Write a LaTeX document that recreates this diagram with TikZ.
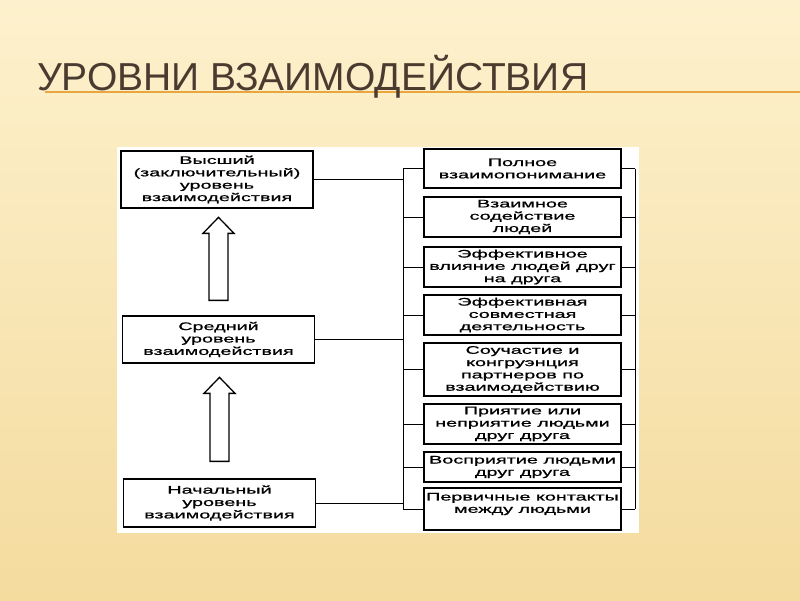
\documentclass[tikz,border=0pt]{standalone}
\usepackage{fontspec}
\setmainfont{Liberation Sans}
\newfontfamily\boxfont[FakeStretch=1.8,FakeBold=0.9]{Liberation Sans}
\usepackage{tikz}
\usetikzlibrary{calc}
\definecolor{slidetop}{HTML}{FDF1CD}
\definecolor{slidebot}{HTML}{F4DB9E}
\definecolor{titleink}{HTML}{4A3B30}
\definecolor{ruleline}{HTML}{E9A53F}

\begin{document}
\begin{tikzpicture}[x=1pt, y=-1pt,
    lvl/.style={draw, line width=1.3pt, minimum width=192pt, align=center,
                inner sep=2pt, font=\boxfont\fontsize{11}{12.4}\selectfont},
    stage/.style={draw, line width=1.3pt, minimum width=197pt, align=center,
                  inner sep=1pt, font=\boxfont\fontsize{11}{12.3}\selectfont},
    hollow/.style={draw, line width=1.3pt, fill=white, line join=miter},
    wire/.style={line width=1pt}
]

\useasboundingbox (0,0) rectangle (800,600);
\shade[top color=slidetop, bottom color=slidebot] (0,0) rectangle (800,600);

% title
\draw[ruleline, line width=1.5pt] (45,92) -- (800,92);
\node[anchor=base west, inner sep=0pt, text=titleink,
      font=\fontsize{39}{39}\selectfont] (title) at (37,90)
    {УРОВНИ ВЗАИМОДЕЙСТВИЯ};

% scanned panel
\fill[white] (117,147) rectangle (639,533);

% levels
\node[lvl, minimum height=57pt] (high) at (217,179.5)
    {Высший\\(заключительный)\\уровень\\взаимодействия};
\node[lvl, minimum height=47pt] (mid) at (218.5,339.5)
    {Средний\\уровень\\взаимодействия};
\node[lvl, minimum height=48pt] (low) at (219.5,503)
    {Начальный\\уровень\\взаимодействия};

% stages
\node[stage, minimum height=39pt] (r1) at (522.5,168.5)
    {Полное\\взаимопонимание};
\node[stage, minimum height=40pt] (r2) at (522.5,217)
    {Взаимное\\содействие\\людей};
\node[stage, minimum height=40pt] (r3) at (522.5,267)
    {Эффективное\\влияние людей друг\\на друга};
\node[stage, minimum height=40pt] (r4) at (522.5,315)
    {Эффективная\\совместная\\деятельность};
\node[stage, minimum height=53pt] (r5) at (522.5,369.5)
    {Соучастие и\\конгруэнция\\партнеров по\\взаимодействию};
\node[stage, minimum height=40pt] (r6) at (522.5,424)
    {Приятие или\\неприятие людьми\\друг друга};
\node[stage, minimum height=30pt] (r7) at (522.5,467)
    {Восприятие людьми\\друг друга};
\node[stage, minimum height=42pt] (r8) at (522.5,509)
    {Первичные контакты\\между людьми\\\phantom{м}};

% upward block arrows
\draw[hollow] ($(mid.north)+(-9.5,-15)$) -- ++(0,-67) -- ++(-6,0)
    -- ++(15.5,-16) -- ++(15.5,16) -- ++(-6,0) -- ++(0,67) -- cycle;
\draw[hollow] ($(low.north)+(-9.5,-17)$) -- ++(0,-68) -- ++(-6,0)
    -- ++(15.5,-16) -- ++(15.5,16) -- ++(-6,0) -- ++(0,68) -- cycle;

% brackets
\coordinate (lbus) at (403,0);
\coordinate (rbus) at (635,0);
\draw[wire] (r1.west -| lbus) -- (r8.west -| lbus);
\draw[wire] (r1.east -| rbus) -- (r8.east -| rbus);
\draw[wire] (high.east) -- (high.east -| lbus);
\draw[wire] (mid.east) -- (mid.east -| lbus);
\draw[wire] (low.east) -- (low.east -| lbus);
\draw[wire] (r1.west) -- (r1.west -| lbus) (r1.east) -- (r1.east -| rbus);
\draw[wire] (r2.west) -- (r2.west -| lbus) (r2.east) -- (r2.east -| rbus);
\draw[wire] (r3.west) -- (r3.west -| lbus) (r3.east) -- (r3.east -| rbus);
\draw[wire] (r4.west) -- (r4.west -| lbus) (r4.east) -- (r4.east -| rbus);
\draw[wire] (r5.west) -- (r5.west -| lbus) (r5.east) -- (r5.east -| rbus);
\draw[wire] (r6.west) -- (r6.west -| lbus) (r6.east) -- (r6.east -| rbus);
\draw[wire] (r7.west) -- (r7.west -| lbus) (r7.east) -- (r7.east -| rbus);
\draw[wire] (r8.west) -- (r8.west -| lbus) (r8.east) -- (r8.east -| rbus);

\end{tikzpicture}
\end{document}
